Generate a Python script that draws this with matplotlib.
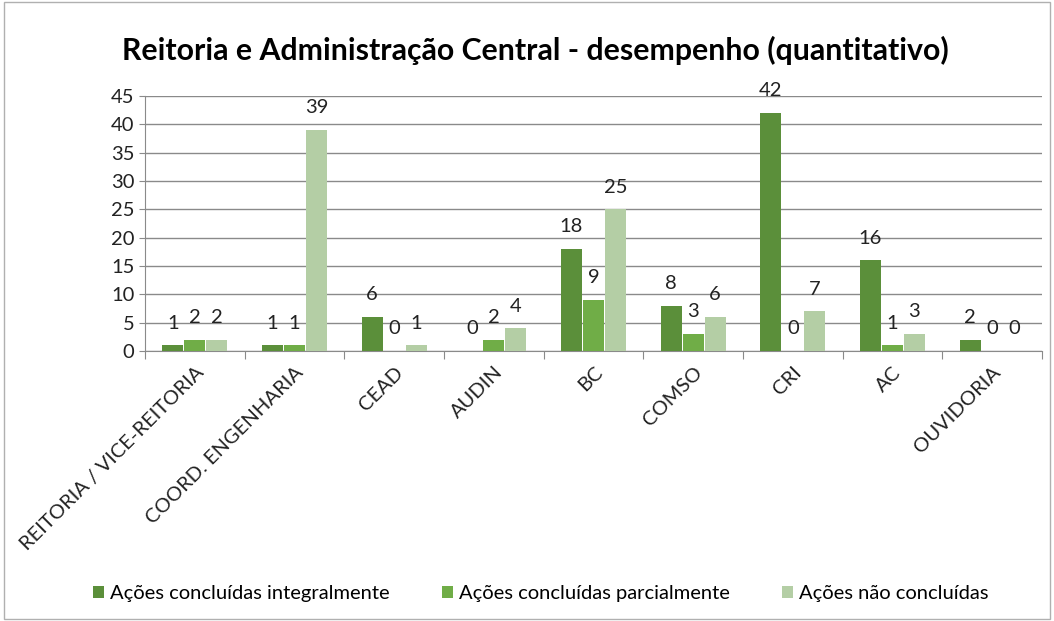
import matplotlib.pyplot as plt
import numpy as np
from matplotlib.patches import Rectangle

# Dados do gráfico
categorias = ['REITORIA / VICE-REITORIA', 'COORD. ENGENHARIA', 'CEAD', 'AUDIN', 'BC',
              'COMSO', 'CRI', 'AC', 'OUVIDORIA']
integral = [1, 1, 6, 0, 18, 8, 42, 16, 2]
parcial = [2, 1, 0, 2, 9, 3, 0, 1, 0]
nao_concl = [2, 39, 1, 4, 25, 6, 7, 3, 0]
series_nomes = ['Ações concluídas integralmente', 'Ações concluídas parcialmente', 'Ações não concluídas']
cores = ['#5B8F3A', '#70AD47', '#B4CEA5']
titulo = 'Reitoria e Administração Central - desempenho (quantitativo)'

plt.rcParams['font.family'] = ['Lato', 'DejaVu Sans']

fig = plt.figure(figsize=(10.54, 6.21), dpi=100)
ax = fig.add_axes([145/1054, 1-351/621, (1042-145)/1054, (351-96)/621])

x = np.arange(len(categorias))
w = 0.21
for k, (vals, cor, nome) in enumerate(zip([integral, parcial, nao_concl], cores, series_nomes)):
    pos = x + (k-1)*w*1.05
    ax.bar(pos, vals, w, color=cor, label=nome, zorder=3)
    for p, v in zip(pos, vals):
        ax.annotate(str(v), (p, v), xytext=(0, 16), textcoords='offset points',
                    ha='center', va='center', fontsize=14.5, color='#222222')

ax.set_xlim(-0.5, len(categorias)-0.5)
ax.set_ylim(0, 45)
ax.set_yticks(range(0, 46, 5))
ax.grid(axis='y', color='#8a8a8a', linewidth=1, zorder=0)
ax.set_axisbelow(True)
for s in ['top', 'right']:
    ax.spines[s].set_visible(False)
ax.spines['left'].set_color('#8a8a8a')
ax.spines['bottom'].set_color('#8a8a8a')
ax.tick_params(axis='y', labelsize=14.5, length=4, color='#8a8a8a', labelcolor='#222222')

# marcas entre as categorias, rótulos no centro
ax.set_xticks(np.arange(-0.5, len(categorias), 1))
ax.set_xticklabels([])
ax.tick_params(axis='x', length=6, color='#8a8a8a')
ax.set_xticks(x, minor=True)
ax.set_xticklabels(categorias, minor=True, rotation=45, ha='right', va='top',
                   rotation_mode='anchor', fontsize=14.5, color='#222222')
ax.tick_params(axis='x', which='minor', length=0, pad=9)

fig.text(0.508, 1-50/621, titulo, ha='center', va='center', fontsize=21.8, fontweight='bold')

ax.legend(loc='center', bbox_to_anchor=(0.513, 1-594/621), bbox_transform=fig.transFigure,
          ncol=3, frameon=False, fontsize=14.5, handlelength=0.55, handleheight=0.55,
          handletextpad=0.3, columnspacing=2.6)

fig.patches.append(Rectangle((0.004, 0.004), 0.992, 0.992, transform=fig.transFigure,
                             fill=False, edgecolor='#b0b0b0', linewidth=1))

fig.savefig('out.png', dpi=100)
